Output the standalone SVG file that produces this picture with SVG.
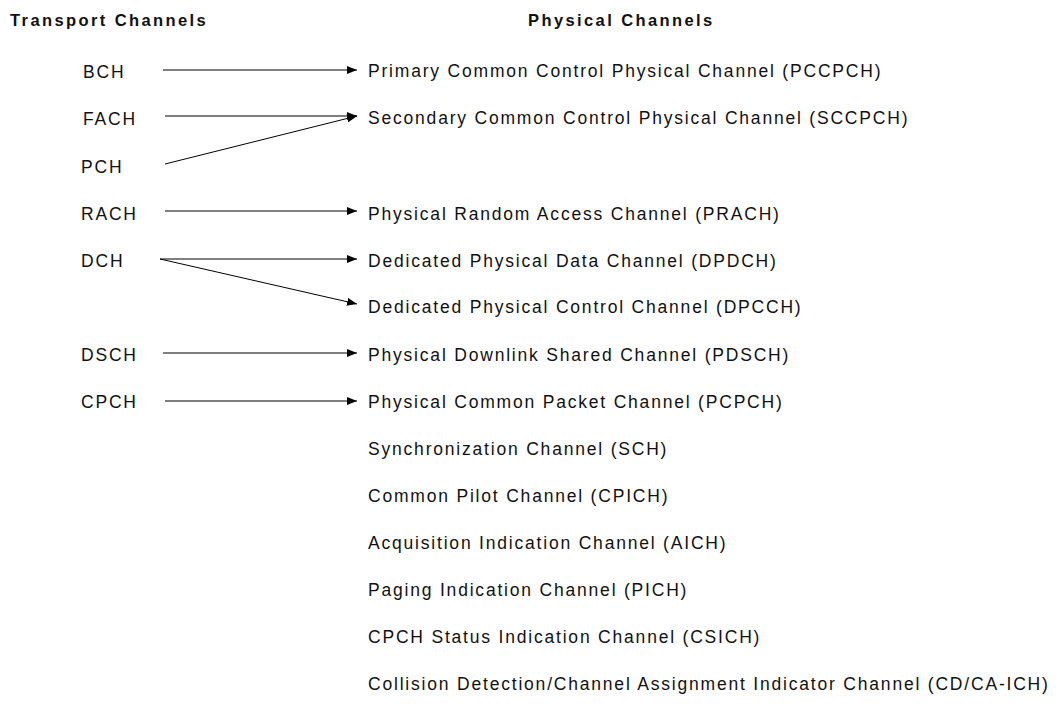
<svg xmlns="http://www.w3.org/2000/svg" width="1059" height="705" viewBox="0 0 1059 705">
  <style>
    text { font-family: "Liberation Sans", Arial, sans-serif; fill: #111; }
    .hdr { font-size: 16.5px; font-weight: bold; letter-spacing: 2.4px; }
    .lbl { font-size: 17.5px; letter-spacing: 1.8px; }
    .conn line { stroke: #000; stroke-width: 1; fill: none; marker-end: url(#arrow); }
  </style>
  <defs>
    <marker id="arrow" viewBox="0 0 10 8" refX="10" refY="4" markerWidth="10" markerHeight="8" markerUnits="userSpaceOnUse" orient="auto">
      <path d="M0,0 L10,4 L0,8 Z" fill="#000"/>
    </marker>
  </defs>
  <rect width="1059" height="705" fill="#fff"/>

  <!-- column headings -->
  <g id="headings">
    <text class="hdr" x="10" y="26">Transport Channels</text>
    <text class="hdr" x="528" y="26">Physical Channels</text>
  </g>

  <!-- transport channels -->
  <g id="t-bch"><text class="lbl" x="83" y="78">BCH</text></g>
  <g id="t-fach"><text class="lbl" x="83" y="125">FACH</text></g>
  <g id="t-pch"><text class="lbl" x="81" y="173">PCH</text></g>
  <g id="t-rach"><text class="lbl" x="81" y="220">RACH</text></g>
  <g id="t-dch"><text class="lbl" x="81" y="267">DCH</text></g>
  <g id="t-dsch"><text class="lbl" x="81" y="361">DSCH</text></g>
  <g id="t-cpch"><text class="lbl" x="81" y="408">CPCH</text></g>

  <!-- physical channels -->
  <g id="p-pccpch"><text class="lbl" x="368" y="77">Primary Common Control Physical Channel (PCCPCH)</text></g>
  <g id="p-sccpch"><text class="lbl" x="368" y="124">Secondary Common Control Physical Channel (SCCPCH)</text></g>
  <g id="p-prach"><text class="lbl" x="368" y="220">Physical Random Access Channel (PRACH)</text></g>
  <g id="p-dpdch"><text class="lbl" x="368" y="267">Dedicated Physical Data Channel (DPDCH)</text></g>
  <g id="p-dpcch"><text class="lbl" x="368" y="313">Dedicated Physical Control Channel (DPCCH)</text></g>
  <g id="p-pdsch"><text class="lbl" x="368" y="361">Physical Downlink Shared Channel (PDSCH)</text></g>
  <g id="p-pcpch"><text class="lbl" x="368" y="408">Physical Common Packet Channel (PCPCH)</text></g>
  <g id="p-sch"><text class="lbl" x="368" y="455">Synchronization Channel (SCH)</text></g>
  <g id="p-cpich"><text class="lbl" x="368" y="502">Common Pilot Channel (CPICH)</text></g>
  <g id="p-aich"><text class="lbl" x="368" y="549">Acquisition Indication Channel (AICH)</text></g>
  <g id="p-pich"><text class="lbl" x="368" y="596">Paging Indication Channel (PICH)</text></g>
  <g id="p-csich"><text class="lbl" x="368" y="643">CPCH Status Indication Channel (CSICH)</text></g>
  <g id="p-cdcaich"><text class="lbl" x="368" y="690">Collision Detection/Channel Assignment Indicator Channel (CD/CA-ICH)</text></g>

  <!-- mappings -->
  <g id="connectors" class="conn">
    <line x1="163" y1="70" x2="357" y2="70"/>
    <line x1="165" y1="116" x2="357" y2="116"/>
    <line x1="165" y1="164" x2="357" y2="116"/>
    <line x1="165" y1="211" x2="357" y2="211"/>
    <line x1="160" y1="259" x2="357" y2="259"/>
    <line x1="160" y1="259" x2="357" y2="304"/>
    <line x1="163" y1="353" x2="357" y2="353"/>
    <line x1="165" y1="401" x2="357" y2="401"/>
  </g>
</svg>
